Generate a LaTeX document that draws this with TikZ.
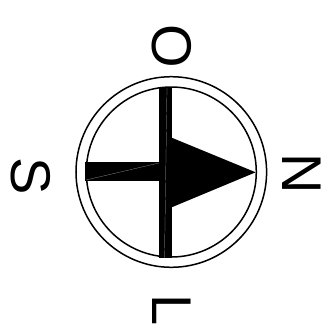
\documentclass[tikz,border=0pt]{standalone}
\usepackage{fontspec}
\setmainfont{Liberation Sans}
\begin{document}
\begin{tikzpicture}[x=1pt, y=-1pt]
    \tikzstyle{ring}=[draw, circle, line width=1.5pt, inner sep=0pt]
    \tikzstyle{letter}=[rotate=-90, inner sep=0pt, font=\fontsize{56}{56}\selectfont]
    \tikzstyle{seam}=[line width=0.2pt, black!30]

    \useasboundingbox (0,0) rectangle (330,333);

    \node[ring, minimum size=190.6pt] (outer) at (171.3,172) {};
    \node[ring, minimum size=170pt] (inner) at (171.3,172) {};

    \coordinate (bartop) at (159,87.5);
    \coordinate (barbot) at (172,258);
    \coordinate (tailtop) at (85,161.7);
    \coordinate (tailbot) at (159,181);
    \coordinate (tailseamL) at (86,180);
    \coordinate (tailseamR) at (159,163);
    \coordinate (tip) at (255.7,172.3);
    \coordinate (headtop) at (171.7,137.7);
    \coordinate (headbot) at (171.7,207.3);
    \coordinate (seamtop) at (167,88);
    \coordinate (seambot) at (164.5,258);

    \fill (bartop) rectangle (barbot);
    \fill (tailtop) rectangle (tailbot);
    \fill (headtop) -- (tip) -- (headbot) -- cycle;
    \draw[seam] (tailseamL) -- (tailseamR);
    \draw[seam] (seamtop) -- (seambot);

    \node[letter] (north) at (171.5,46) {O};
    \node[letter] (east) at (301.7,174) {N};
    \node[letter] (south) at (171.7,310) {L};
    \node[letter] (west) at (31,176) {S};
\end{tikzpicture}
\end{document}
